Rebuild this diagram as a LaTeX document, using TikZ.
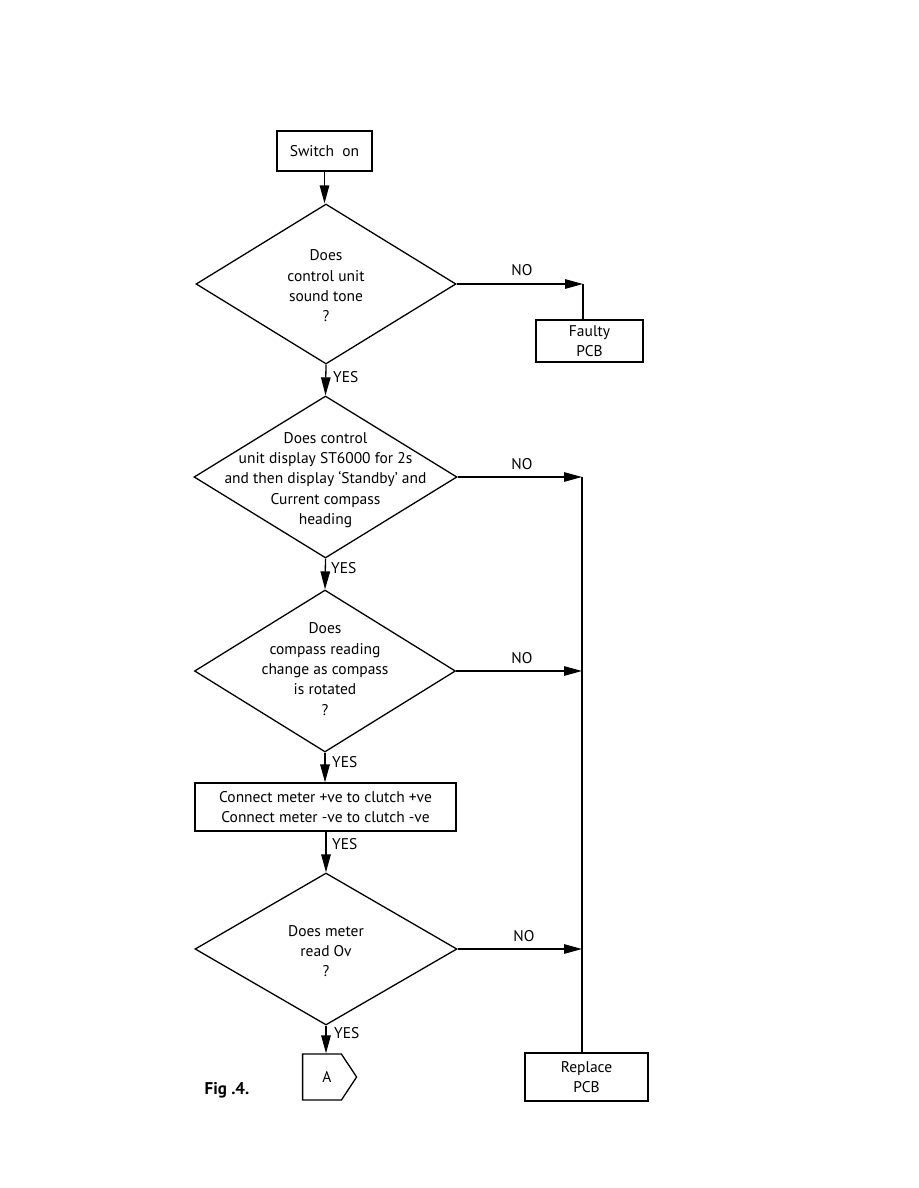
\documentclass[tikz,border=0pt]{standalone}
\usepackage{fontspec}
\setmainfont{PT Sans}
\usetikzlibrary{arrows.meta,shapes.geometric,shapes.symbols}
\tikzset{
  base/.style={line width=1.3pt},
  box/.style={base, draw, rectangle, inner sep=0pt, align=center, font=\fontsize{15.5}{20}\selectfont},
  dia/.style={base, draw, diamond, inner sep=0pt},
  dtext/.style={align=center, font=\fontsize{15.5}{20.3}\selectfont},
  lbl/.style={font=\fontsize{15.5}{17}\selectfont, inner sep=0pt},
  arr/.style={base, -{Triangle[length=18pt,width=9.5pt]}},
  ln/.style={base},
}
\begin{document}
\begin{tikzpicture}[x=1pt,y=-1pt]
\useasboundingbox (0,0) rectangle (918,1188);

\node[box, minimum width=95pt, minimum height=40pt] (sw) at (324.5,151) {Switch\ \ on};

\node[dia, minimum width=260pt, minimum height=160pt] (d1) at (326,284) {};
\node[dtext] (t1) at (326,286) {Does\\control unit\\sound tone\\?};

\node[box, minimum width=107pt, minimum height=42pt] (fp) at (589.5,341) {Faulty\\PCB};

\node[dia, minimum width=263pt, minimum height=162pt] (d2) at (325.5,477) {};
\node[dtext] (t2) at (325.5,480) {Does control\\unit display ST6000 for 2s\\and then display `Standby' and\\Current compass\\heading};

\node[dia, minimum width=261pt, minimum height=162pt] (d3) at (325,671) {};
\node[dtext] (t3) at (325,669) {Does\\compass reading\\change as compass\\is rotated\\?};

\node[box, minimum width=261pt, minimum height=48pt] (cm) at (325.5,807) {Connect meter +ve to clutch +ve\\Connect meter -ve to clutch -ve};

\node[dia, minimum width=262pt, minimum height=152pt] (d4) at (326,949) {};
\node[dtext] (t4) at (326,951) {Does meter\\read Ov\\?};

\node[base, draw, signal, signal to=east, signal pointer angle=113, minimum width=54pt, minimum height=46pt, inner sep=0pt,
  label={[xshift=5pt, font=\fontsize{15.5}{17}\selectfont]center:A}] (A) at (322,1077) {};

\node[box, minimum width=123pt, minimum height=48pt] (rp) at (586.5,1077) {Replace\\PCB};

\node[font=\fontsize{17}{18}\selectfont\bfseries, inner sep=0pt] (fig) at (227,1090) {Fig .4.};

% main column
\draw[arr] (sw.south) -- (sw.south |- d1.north);
\draw[arr] (d1.south) -- (d2.north);
\draw[arr] (d2.south) -- (d3.north);
\draw[arr] (d3.south) -- (cm.north -| d3.south);
\draw[arr] (cm.south -| d4.north) -- (d4.north);
\draw[arr] (d4.south) -- (d4.south |- A.north);

% NO branches
\coordinate (c1) at (583,284);
\draw[arr] (d1.east) -- (c1);
\draw[ln] (c1) -- (c1 |- fp.north);

\coordinate (c2) at (582,477);
\coordinate (c3) at (582,671);
\coordinate (c4) at (582,949);
\draw[arr] (d2.east) -- (c2);
\draw[arr] (d3.east) -- (c3);
\draw[arr] (d4.east) -- (c4);
\draw[ln] (c2) -- (c2 |- rp.north);

% labels
\node[lbl] (no1) at (522,270) {NO};
\node[lbl] (no2) at (522,464) {NO};
\node[lbl] (no3) at (522,658) {NO};
\node[lbl] (no4) at (524,936) {NO};
\node[lbl, anchor=west] (y1) at (333,377) {YES};
\node[lbl, anchor=west] (y2) at (331,568) {YES};
\node[lbl, anchor=west] (y3) at (332,762) {YES};
\node[lbl, anchor=west] (y4) at (332,844) {YES};
\node[lbl, anchor=west] (y5) at (334,1033) {YES};
\end{tikzpicture}
\end{document}
